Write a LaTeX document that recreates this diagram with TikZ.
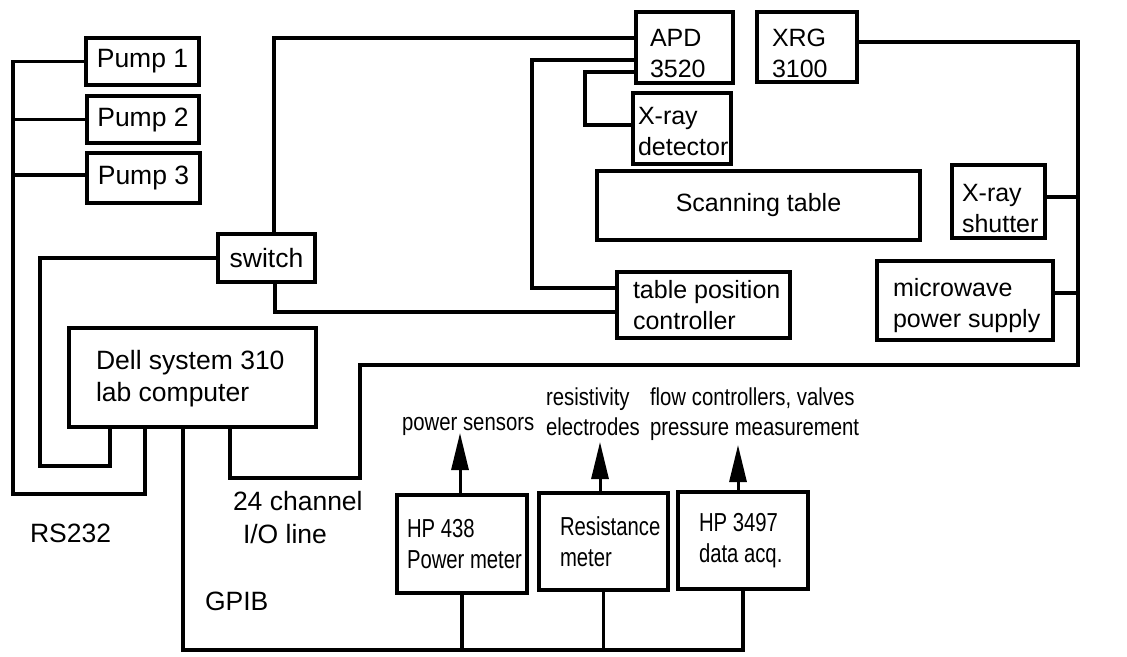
\documentclass[tikz,border=0pt]{standalone}
\usepackage{fontspec}
\setmainfont{Liberation Sans}
\newfontfamily\narrowfont{Liberation Sans}[FakeStretch=0.78]
\newfontfamily\labelfont{Liberation Sans}[FakeStretch=0.83]
\usetikzlibrary{arrows.meta}
\hyphenpenalty=10000
\exhyphenpenalty=10000
\begin{document}
\begin{tikzpicture}[x=1pt, y=-1pt,
  every node/.style={execute at begin node={\spaceskip=.278em plus .1em\relax}},
  wire/.style={line width=3.2pt},
  sig/.style={line width=3pt, -{Triangle[length=37pt,width=17pt]}},
  box/.style={draw, line width=3.2pt, inner sep=0pt, outer sep=0pt},
  leftf/.style={font=\fontsize{26.5}{32}\selectfont},
  topf/.style={font=\fontsize{25}{31}\selectfont},
  lowf/.style={font=\narrowfont\fontsize{26}{31}\selectfont,
    execute at begin node={\spaceskip=5.6pt plus 1pt\relax}},
  lblf/.style={font=\labelfont\fontsize{24.5}{30}\selectfont,
    execute at begin node={\spaceskip=5.7pt plus 1pt\relax}},
  txt/.style={inner sep=0pt, outer sep=0pt}]
\useasboundingbox (0,0) rectangle (1127,656);

% pumps, switch and lab computer
\node[box, leftf, minimum width=113pt, minimum height=47pt] (pump1) at (142.5,61.5) {Pump 1};
\node[box, leftf, minimum width=112pt, minimum height=47pt] (pump2) at (143,119.5) {Pump 2};
\node[box, leftf, minimum width=113pt, minimum height=50pt] (pump3) at (143.5,178) {Pump 3};
\node[box, leftf, minimum width=97pt, minimum height=48pt] (switch) at (266.5,258) {switch};
\node[box, leftf, minimum width=247pt, minimum height=99pt, text width=193pt, align=left] (dell) at (192.5,377.5)
  {\rule{0pt}{22pt}\mbox{Dell system 310}\\\mbox{lab computer}};

% X-ray scanning set-up
\node[box, topf, minimum width=97pt, minimum height=71pt, text width=69pt, align=left] (apd) at (684.5,47.5)
  {\rule{0pt}{30pt}APD\\3520};
\node[box, topf, minimum width=100pt, minimum height=70pt, text width=70pt, align=left] (xrg) at (807,47)
  {\rule{0pt}{31pt}XRG\\3100};
\node[box, topf, minimum width=98pt, minimum height=71pt, text width=88pt, align=left] (det) at (682,128.5)
  {\rule{0pt}{24pt}\mbox{X-ray}\\\mbox{detector}};
\node[box, topf, minimum width=323pt, minimum height=69pt] (scan) at (758.5,205.5) {Scanning table};
\node[box, topf, minimum width=93pt, minimum height=73pt, text width=73pt, align=left] (shut) at (998.5,201.5)
  {\rule{0pt}{32pt}\mbox{X-ray}\\\mbox{shutter}};
\node[box, topf, minimum width=176pt, minimum height=79pt, text width=144pt, align=left] (micro) at (965,300.5)
  {\rule{0pt}{29pt}\mbox{microwave}\\\mbox{power supply}};
\node[box, topf, minimum width=173pt, minimum height=66pt, text width=141pt, align=left] (tpc) at (703.5,305)
  {\mbox{table position}\\\mbox{controller}};

% GPIB instruments
\node[box, lowf, minimum width=130pt, minimum height=98pt, text width=110pt, align=left] (hp438) at (462,544)
  {\mbox{HP 438}\\\mbox{Power meter}};
\node[box, lowf, minimum width=129pt, minimum height=97pt, text width=87pt, align=left] (res) at (603.5,541.5)
  {\mbox{Resistance}\\\mbox{meter}};
\node[box, lowf, minimum width=130pt, minimum height=97pt, text width=88pt, align=left] (hp3497) at (743,540.5)
  {\mbox{HP 3497}\\\mbox{data acq.}};

% labels
\node[txt, lblf, anchor=base west] (powersens) at (402,430) {power sensors};
\node[txt, lblf, anchor=north west, align=left] (electrodes) at (546,385)
  {\rule{0pt}{20pt}resistivity\\electrodes};
\node[txt, lblf, anchor=north west, align=left] (flow) at (650,385)
  {\rule{0pt}{20pt}flow controllers, valves\\pressure measurement};
\node[txt, leftf, anchor=north west, align=left] (ioline) at (233,489)
  {\rule{0pt}{21pt}24 channel\\[1pt]\hspace*{10pt}I/O line};
\node[txt, leftf, anchor=base west] (rs232) at (30,542) {RS232};
\node[txt, leftf, anchor=base west] (gpib) at (205,610) {GPIB};

% bend points of the cables
\coordinate (pbus) at (13,494);
\coordinate (swbus) at (40,466);
\coordinate (tpcup) at (532,288);
\coordinate (detbend) at (585,125);
\coordinate (xrgbus) at (1078,365);
\coordinate (iobend) at (360,478);
\coordinate (gpibus) at (743,650);

% RS232 to the pumps
\draw[wire] (pump1.west) -| (pbus) -| ([xshift=-47.5pt]dell.south);
\draw[wire] (pump2.west) -- (pump2.west -| pbus);
\draw[wire] ([yshift=3pt]pump3.west) -- ([yshift=3pt]pump3.west -| pbus);

% RS232 to the switch and the switched lines
\draw[wire] (switch.west) -| (swbus) -| ([xshift=-82.5pt]dell.south);
\draw[wire] ([xshift=7.5pt]switch.north) |- ([yshift=9.5pt]apd.west);
\draw[wire] ([xshift=8.5pt]switch.south) |- ([yshift=-7pt]tpc.west);

% APD connections
\draw[wire] ([yshift=-12.5pt]apd.west) -| (tpcup) -- ([yshift=17pt]tpc.west);
\draw[wire] ([yshift=-24.5pt]apd.west) -| (detbend) -- ([yshift=3.5pt]det.west);

% 24 channel I/O line
\draw[wire] ([yshift=5pt]xrg.east) -| (xrgbus) -| (iobend) -| ([xshift=37.5pt]dell.south);
\draw[wire] ([yshift=4.5pt]shut.east) -- ([yshift=4.5pt]shut.east -| xrgbus);
\draw[wire] ([yshift=7.5pt]micro.east) -- ([yshift=7.5pt]micro.east -| xrgbus);

% GPIB bus
\draw[wire] ([xshift=-9.5pt]dell.south) |- (gpibus) -- (hp3497.south);
\draw[wire] (hp438.south) -- (hp438.south |- gpibus);
\draw[wire] (res.south) -- (res.south |- gpibus);

% sensor arrows
\draw[sig] ([xshift=-2pt]hp438.north) -- ++(0,-62);
\draw[sig] ([xshift=-3.5pt]res.north) -- ++(0,-51);
\draw[sig] ([xshift=-5pt]hp3497.north) -- ++(0,-47);
\end{tikzpicture}
\end{document}
